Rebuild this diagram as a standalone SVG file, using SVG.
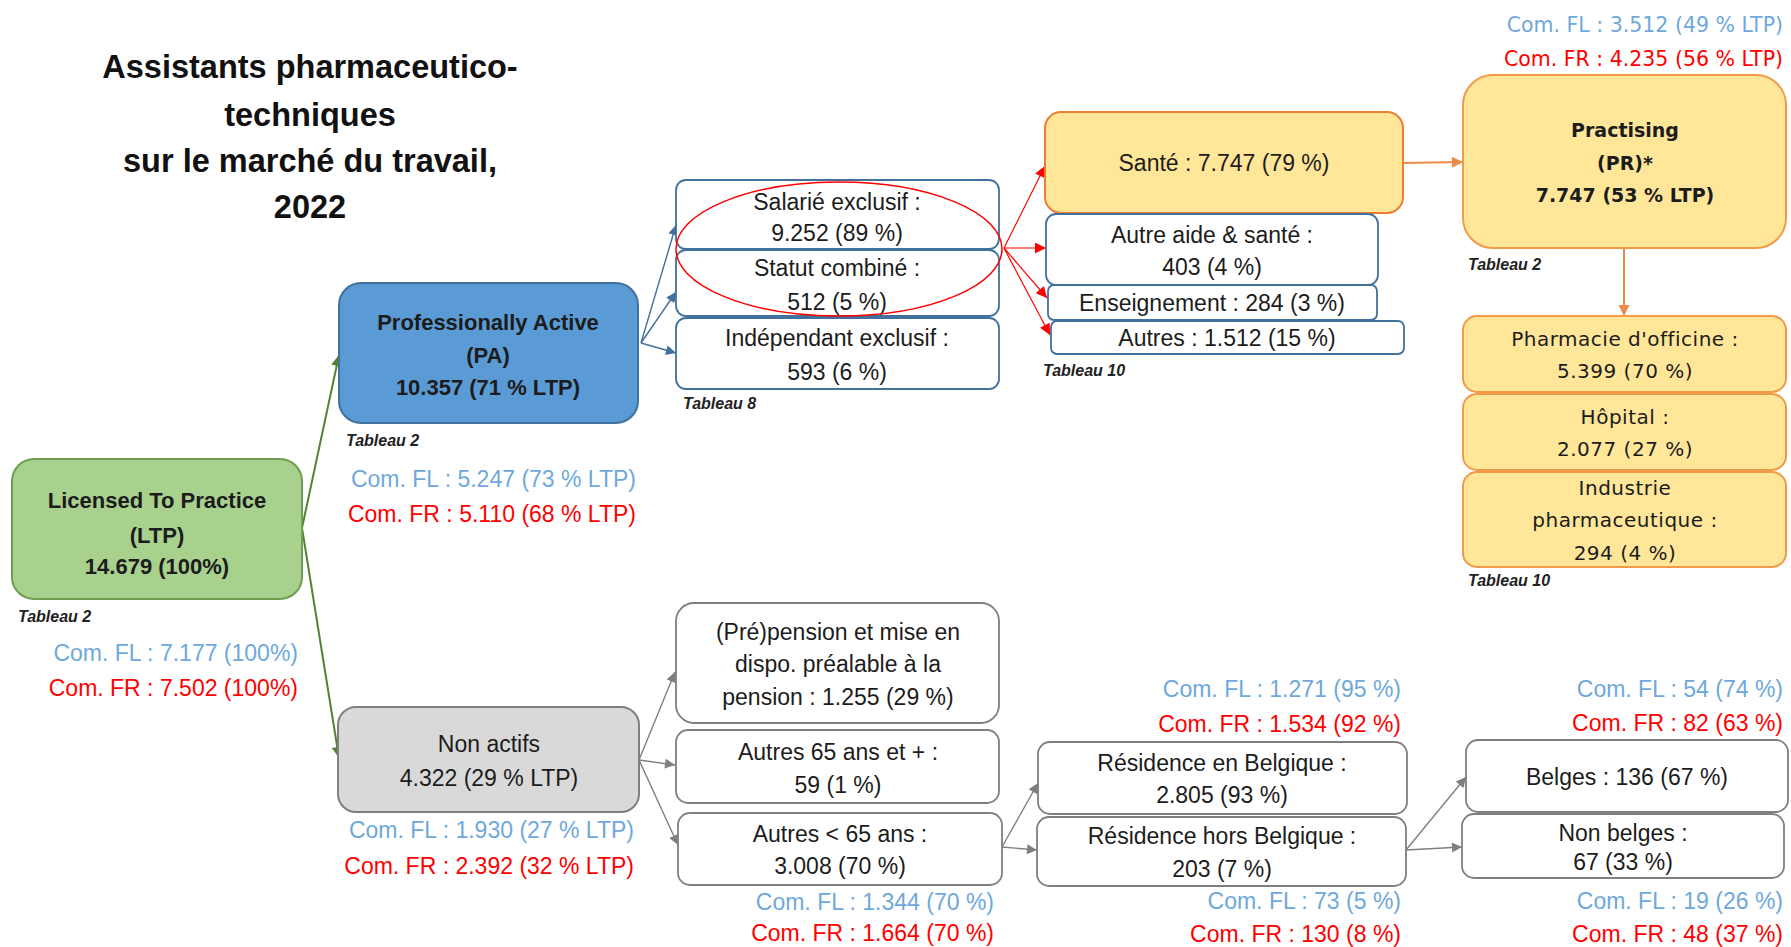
<svg xmlns="http://www.w3.org/2000/svg" width="1791" height="947" viewBox="0 0 1791 947">
<defs>
<marker id="ag" viewBox="0 0 10 10" refX="10" refY="5" markerWidth="13" markerHeight="11" markerUnits="userSpaceOnUse" orient="auto"><path d="M0,0 L10,5 L0,10 z" fill="#548235"/></marker>
<marker id="ab" viewBox="0 0 10 10" refX="10" refY="5" markerWidth="12" markerHeight="10" markerUnits="userSpaceOnUse" orient="auto"><path d="M0,0 L10,5 L0,10 z" fill="#41719C"/></marker>
<marker id="ar" viewBox="0 0 10 10" refX="10" refY="5" markerWidth="13" markerHeight="11" markerUnits="userSpaceOnUse" orient="auto"><path d="M0,0 L10,5 L0,10 z" fill="#FF0000"/></marker>
<marker id="ay" viewBox="0 0 10 10" refX="10" refY="5" markerWidth="13" markerHeight="11" markerUnits="userSpaceOnUse" orient="auto"><path d="M0,0 L10,5 L0,10 z" fill="#EE8A48"/></marker>
<marker id="aq" viewBox="0 0 10 10" refX="10" refY="5" markerWidth="12" markerHeight="10" markerUnits="userSpaceOnUse" orient="auto"><path d="M0,0 L10,5 L0,10 z" fill="#7F7F7F"/></marker>
</defs>
<style>
text{font-family:"Liberation Sans",Arial,sans-serif;fill:#1c1c1c;dominant-baseline:central}
.t{font-size:23px;text-anchor:middle}
.b{font-size:22px;font-weight:bold;text-anchor:middle}
.title{font-size:32.5px;font-weight:bold;text-anchor:middle;fill:#111;dominant-baseline:auto}
.v{font-family:"DejaVu Sans",Verdana,sans-serif;font-size:20px;letter-spacing:0.5px;text-anchor:middle}
.vb{font-family:"DejaVu Sans",Verdana,sans-serif;font-size:19px;font-weight:bold;text-anchor:middle}
.tab{font-size:16px;font-style:italic;font-weight:bold;fill:#222}
.fl{font-size:23px;fill:#6FA8DC;text-anchor:end}
.fr{font-size:23px;fill:#FF0000;text-anchor:end}
.flv{font-family:"DejaVu Sans",Verdana,sans-serif;font-size:20.5px;fill:#6FA8DC;text-anchor:end}
.frv{font-family:"DejaVu Sans",Verdana,sans-serif;font-size:20.5px;fill:#FF0000;text-anchor:end}
.wb{fill:#fff;stroke:#41719C;stroke-width:1.8}
.wg{fill:#fff;stroke:#7F7F7F;stroke-width:1.8}
.or{fill:#FFE699;stroke:#F09A4A;stroke-width:2}
.cg{stroke:#548235;stroke-width:2;fill:none}
.cb{stroke:#41719C;stroke-width:1.4;fill:none}
.cr{stroke:#FF0000;stroke-width:1.2;fill:none}
.cy{stroke:#EE8A48;stroke-width:2;fill:none}
.cq{stroke:#7F7F7F;stroke-width:1.4;fill:none}
</style>
<rect width="1791" height="947" fill="#fff"/>

<g id="title">
<text class="title" x="310" y="78">Assistants pharmaceutico-</text>
<text class="title" x="310" y="126">techniques</text>
<text class="title" x="310" y="172">sur le marché du travail,</text>
<text class="title" x="310" y="218">2022</text>
</g>

<g id="connectors">
<line class="cg" x1="302" y1="528" x2="339" y2="355" marker-end="url(#ag)"/>
<line class="cg" x1="302" y1="528" x2="339" y2="758" marker-end="url(#ag)"/>
<line class="cb" x1="641" y1="343" x2="676" y2="225" marker-end="url(#ab)"/>
<line class="cb" x1="641" y1="343" x2="676" y2="292" marker-end="url(#ab)"/>
<line class="cb" x1="641" y1="343" x2="676" y2="353" marker-end="url(#ab)"/>
<line class="cr" x1="1004" y1="248" x2="1045" y2="166" marker-end="url(#ar)"/>
<line class="cr" x1="1004" y1="248" x2="1046" y2="248" marker-end="url(#ar)"/>
<line class="cr" x1="1004" y1="248" x2="1047" y2="298" marker-end="url(#ar)"/>
<line class="cr" x1="1004" y1="248" x2="1050" y2="335" marker-end="url(#ar)"/>
<line class="cy" x1="1403" y1="163" x2="1463" y2="162" marker-end="url(#ay)"/>
<line class="cy" x1="1624" y1="248" x2="1624" y2="316" marker-end="url(#ay)"/>
<line class="cq" x1="639" y1="760" x2="675" y2="672" marker-end="url(#aq)"/>
<line class="cq" x1="639" y1="760" x2="675" y2="765" marker-end="url(#aq)"/>
<line class="cq" x1="639" y1="760" x2="678" y2="845" marker-end="url(#aq)"/>
<line class="cq" x1="1002" y1="847" x2="1038" y2="783" marker-end="url(#aq)"/>
<line class="cq" x1="1002" y1="847" x2="1037" y2="850" marker-end="url(#aq)"/>
<line class="cq" x1="1406" y1="850" x2="1466" y2="777" marker-end="url(#aq)"/>
<line class="cq" x1="1406" y1="850" x2="1462" y2="847" marker-end="url(#aq)"/>
</g>

<g id="ltp">
<rect x="12" y="459" width="290" height="140" rx="22" fill="#A9D18E" stroke="#6E9E50" stroke-width="2"/>
<text class="b" x="157" y="500" font-size="21.5">Licensed To Practice</text>
<text class="b" x="157" y="535">(LTP)</text>
<text class="b" x="157" y="566">14.679 (100%)</text>
<text class="tab" x="18" y="616">Tableau 2</text>
<text class="fl" x="298" y="653">Com. FL : 7.177 (100%)</text>
<text class="fr" x="298" y="688">Com. FR : 7.502 (100%)</text>
</g>

<g id="pa">
<rect x="339" y="283" width="299" height="140" rx="22" fill="#5B9BD5" stroke="#41719C" stroke-width="2"/>
<text class="b" x="488" y="322">Professionally Active</text>
<text class="b" x="488" y="355">(PA)</text>
<text class="b" x="488" y="387">10.357 (71 % LTP)</text>
<text class="tab" x="346" y="440">Tableau 2</text>
<text class="fl" x="636" y="479">Com. FL : 5.247 (73 % LTP)</text>
<text class="fr" x="636" y="514">Com. FR : 5.110 (68 % LTP)</text>
</g>

<g id="salarie">
<rect class="wb" x="676" y="180" width="323" height="69" rx="10"/>
<text class="t" x="837" y="202">Salarié exclusif :</text>
<text class="t" x="837" y="233">9.252 (89 %)</text>
</g>
<g id="statut">
<rect class="wb" x="676" y="250" width="323" height="66" rx="10"/>
<text class="t" x="837" y="268">Statut combiné :</text>
<text class="t" x="837" y="302">512 (5 %)</text>
</g>
<g id="independant">
<rect class="wb" x="676" y="318" width="323" height="71" rx="10"/>
<text class="t" x="837" y="338">Indépendant exclusif :</text>
<text class="t" x="837" y="372">593 (6 %)</text>
<text class="tab" x="683" y="403">Tableau 8</text>
</g>
<ellipse id="highlight" cx="839" cy="249" rx="163" ry="67" fill="none" stroke="#FF0000" stroke-width="1.5"/>

<g id="sante">
<rect x="1045" y="112" width="358" height="101" rx="16" fill="#FFE699" stroke="#ED7D31" stroke-width="2"/>
<text class="t" x="1224" y="163">Santé : 7.747 (79 %)</text>
</g>
<g id="autreaide">
<rect class="wb" x="1046" y="214" width="332" height="71" rx="10"/>
<text class="t" x="1212" y="235">Autre aide &amp; santé :</text>
<text class="t" x="1212" y="267">403 (4 %)</text>
</g>
<g id="enseignement">
<rect class="wb" x="1048" y="285" width="329" height="35" rx="6"/>
<text class="t" x="1212" y="303">Enseignement : 284 (3 %)</text>
</g>
<g id="autres">
<rect class="wb" x="1051" y="321" width="353" height="33" rx="6"/>
<text class="t" x="1227" y="338">Autres : 1.512 (15 %)</text>
<text class="tab" x="1043" y="370">Tableau 10</text>
</g>

<g id="practising">
<text class="flv" x="1783" y="25">Com. FL : 3.512 (49 % LTP)</text>
<text class="frv" x="1783" y="59">Com. FR : 4.235 (56 % LTP)</text>
<rect class="or" x="1463" y="75" width="323" height="173" rx="30"/>
<text class="vb" x="1625" y="130">Practising</text>
<text class="vb" x="1625" y="163">(PR)*</text>
<text class="vb" x="1625" y="195">7.747 (53 % LTP)</text>
<text class="tab" x="1468" y="264">Tableau 2</text>
</g>
<g id="pharmacie">
<rect class="or" x="1463" y="316" width="323" height="76" rx="14"/>
<text class="v" x="1625" y="339">Pharmacie d'officine :</text>
<text class="v" x="1625" y="371">5.399 (70 %)</text>
</g>
<g id="hopital">
<rect class="or" x="1463" y="394" width="323" height="76" rx="14"/>
<text class="v" x="1625" y="417">Hôpital :</text>
<text class="v" x="1625" y="449">2.077 (27 %)</text>
</g>
<g id="industrie">
<rect class="or" x="1463" y="472" width="323" height="95" rx="14"/>
<text class="v" x="1625" y="488">Industrie</text>
<text class="v" x="1625" y="520">pharmaceutique :</text>
<text class="v" x="1625" y="553">294 (4 %)</text>
<text class="tab" x="1468" y="580">Tableau 10</text>
</g>

<g id="nonactifs">
<rect x="338" y="707" width="301" height="105" rx="18" fill="#D9D9D9" stroke="#7F7F7F" stroke-width="2"/>
<text class="t" x="489" y="744">Non actifs</text>
<text class="t" x="489" y="778">4.322 (29 % LTP)</text>
<text class="fl" x="634" y="830">Com. FL : 1.930 (27 % LTP)</text>
<text class="fr" x="634" y="866">Com. FR : 2.392 (32 % LTP)</text>
</g>
<g id="pension">
<rect class="wg" x="676" y="603" width="323" height="120" rx="18"/>
<text class="t" x="838" y="632">(Pré)pension et mise en</text>
<text class="t" x="838" y="664">dispo. préalable à la</text>
<text class="t" x="838" y="697">pension : 1.255 (29 %)</text>
</g>
<g id="autres65plus">
<rect class="wg" x="676" y="730" width="323" height="73" rx="12"/>
<text class="t" x="838" y="752">Autres 65 ans et + :</text>
<text class="t" x="838" y="785">59 (1 %)</text>
</g>
<g id="autres65moins">
<rect class="wg" x="678" y="813" width="324" height="72" rx="12"/>
<text class="t" x="840" y="834">Autres &lt; 65 ans :</text>
<text class="t" x="840" y="866">3.008 (70 %)</text>
<text class="fl" x="994" y="902">Com. FL : 1.344 (70 %)</text>
<text class="fr" x="994" y="933">Com. FR : 1.664 (70 %)</text>
</g>
<g id="resbelgique">
<text class="fl" x="1401" y="689">Com. FL : 1.271 (95 %)</text>
<text class="fr" x="1401" y="724">Com. FR : 1.534 (92 %)</text>
<rect class="wg" x="1038" y="742" width="369" height="72" rx="12"/>
<text class="t" x="1222" y="763">Résidence en Belgique :</text>
<text class="t" x="1222" y="795">2.805 (93 %)</text>
</g>
<g id="reshors">
<rect class="wg" x="1037" y="817" width="369" height="69" rx="12"/>
<text class="t" x="1222" y="836">Résidence hors Belgique :</text>
<text class="t" x="1222" y="869">203 (7 %)</text>
<text class="fl" x="1401" y="901">Com. FL : 73 (5 %)</text>
<text class="fr" x="1401" y="934">Com. FR : 130 (8 %)</text>
</g>
<g id="belges">
<text class="fl" x="1783" y="689">Com. FL : 54 (74 %)</text>
<text class="fr" x="1783" y="723">Com. FR : 82 (63 %)</text>
<rect class="wg" x="1466" y="740" width="322" height="72" rx="12"/>
<text class="t" x="1627" y="777">Belges : 136 (67 %)</text>
</g>
<g id="nonbelges">
<rect class="wg" x="1462" y="814" width="322" height="64" rx="12"/>
<text class="t" x="1623" y="833">Non belges :</text>
<text class="t" x="1623" y="862">67 (33 %)</text>
<text class="fl" x="1783" y="901">Com. FL : 19 (26 %)</text>
<text class="fr" x="1783" y="934">Com. FR : 48 (37 %)</text>
</g>
</svg>
